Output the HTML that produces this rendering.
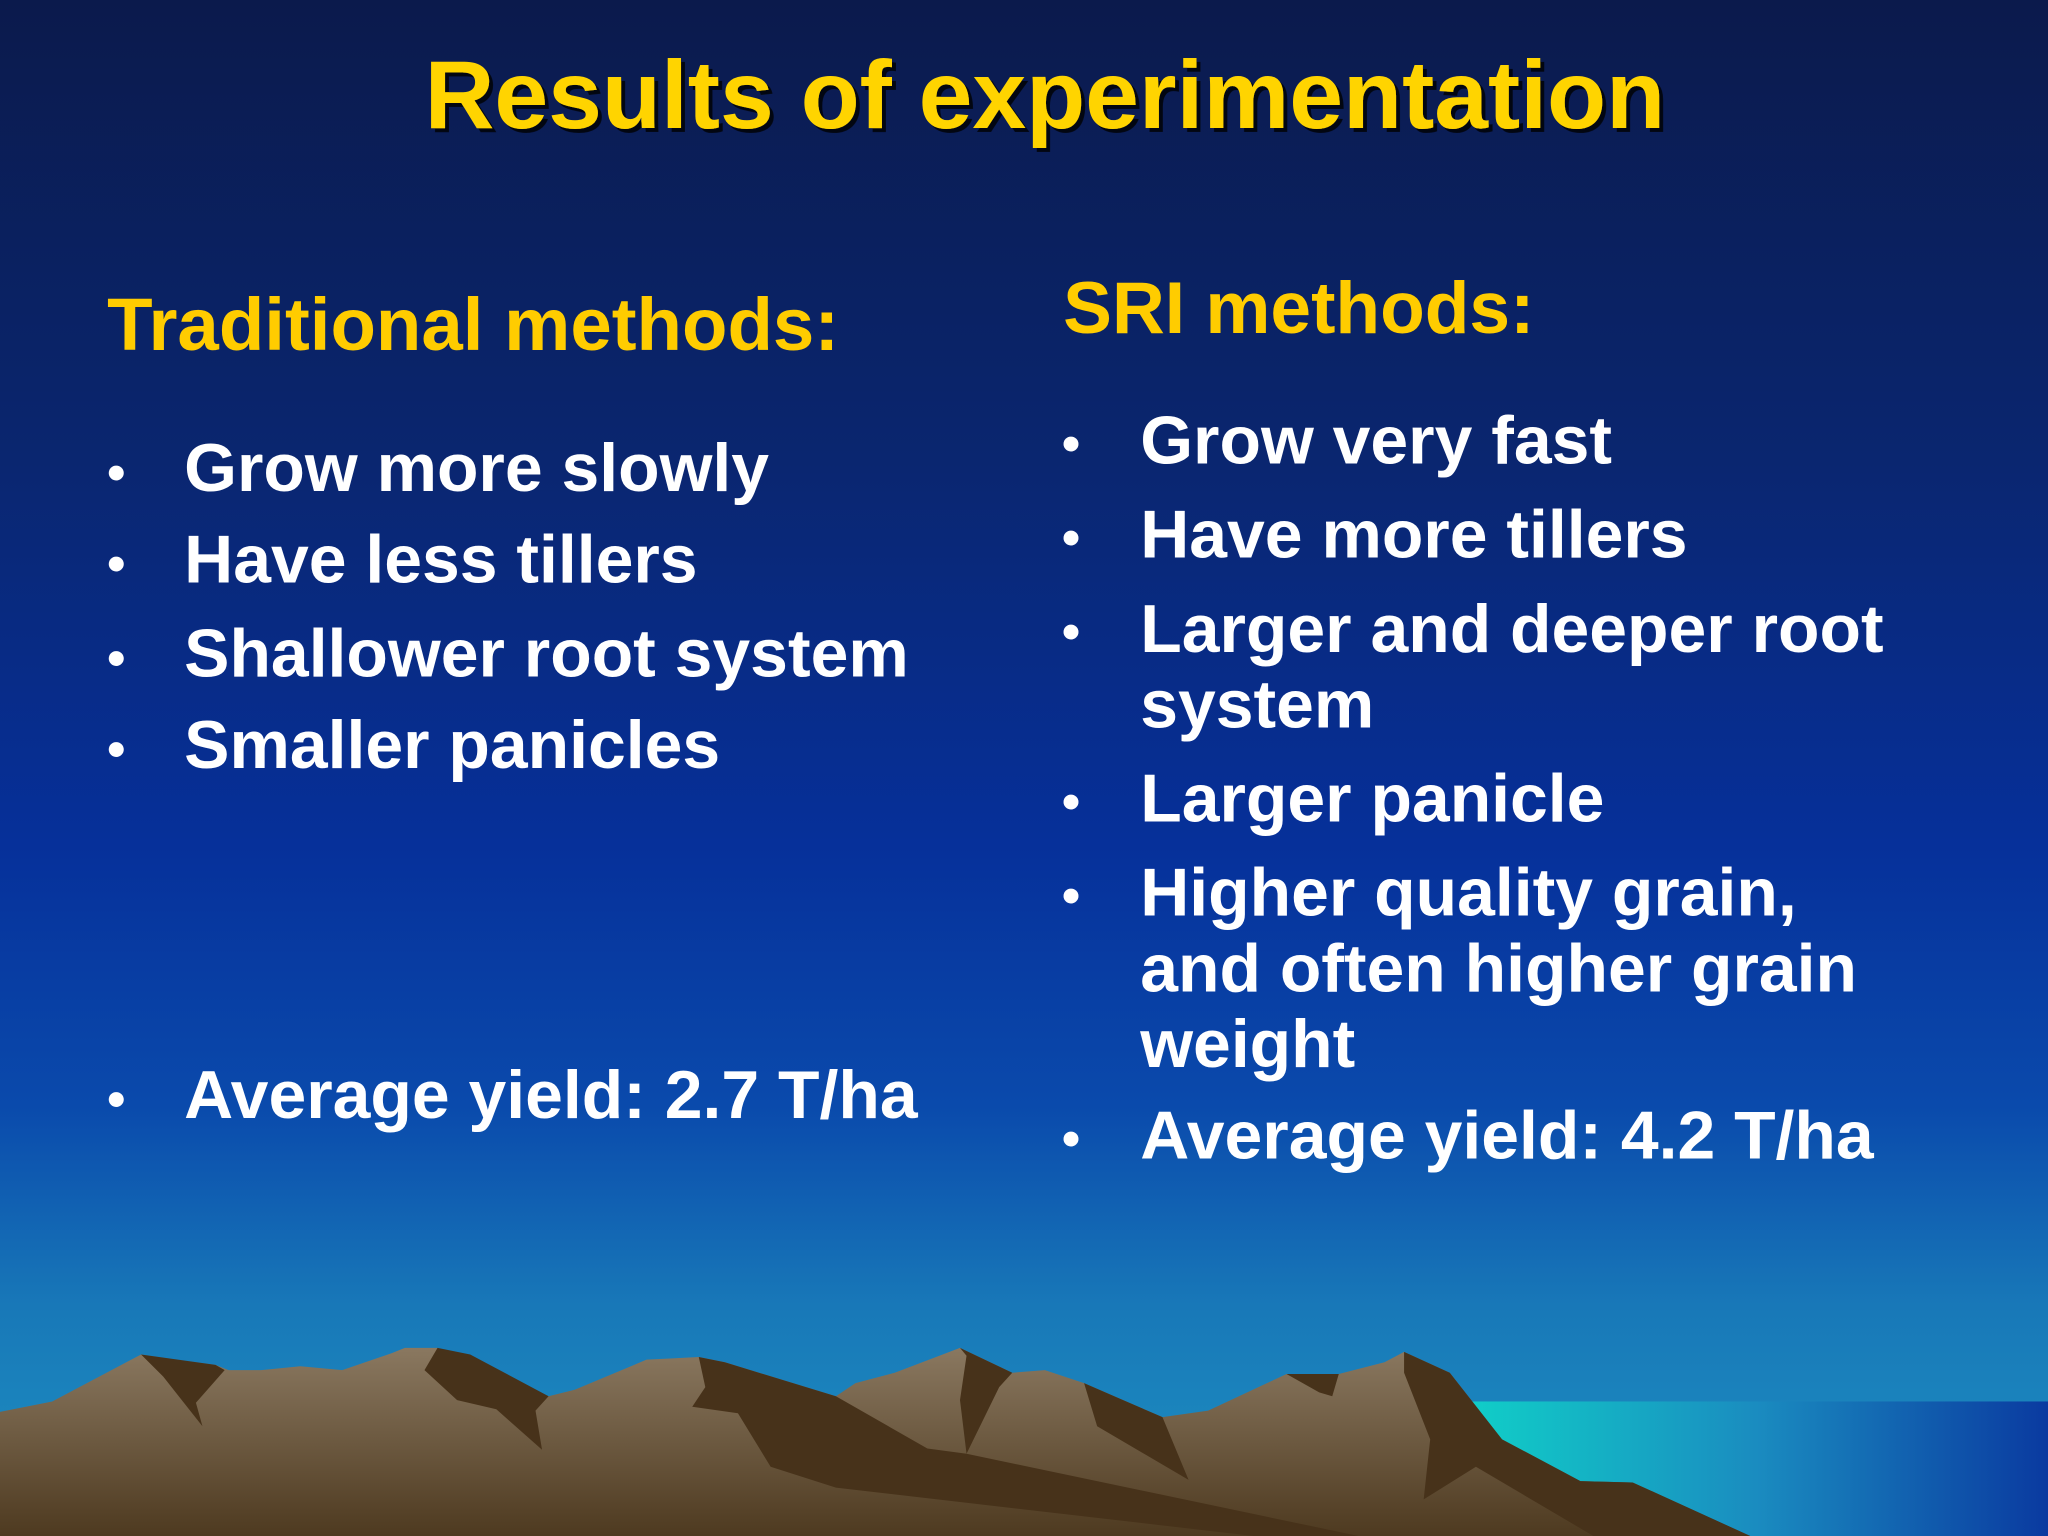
<!DOCTYPE html>
<html><head><meta charset="utf-8"><style>
html,body{margin:0;padding:0;background:#0a1a4a;}
svg{display:block}
text{font-family:"Liberation Sans",Arial,sans-serif;font-weight:bold;}
</style></head><body>
<svg width="2048" height="1536" viewBox="0 0 1568 1176" preserveAspectRatio="none" xmlns="http://www.w3.org/2000/svg">
<defs>
<linearGradient id="sky" x1="0" y1="0" x2="0" y2="1">
<stop offset="0" stop-color="#0b1a4c"/>
<stop offset="0.3" stop-color="#0a2670"/>
<stop offset="0.55" stop-color="#06309a"/>
<stop offset="0.72" stop-color="#0a4aac"/>
<stop offset="0.85" stop-color="#1878b8"/>
<stop offset="1" stop-color="#1e92c2"/>
</linearGradient>
<linearGradient id="sea" x1="0" y1="0" x2="1" y2="0">
<stop offset="0" stop-color="#10d0c8"/>
<stop offset="0.5" stop-color="#1a8cc0"/>
<stop offset="1" stop-color="#0a3aa0"/>
</linearGradient>
<linearGradient id="rock" x1="0" y1="0" x2="0" y2="1">
<stop offset="0" stop-color="#8a7860"/>
<stop offset="1" stop-color="#4e3a20"/>
</linearGradient>
<filter id="sh"><feDropShadow dx="3" dy="3" stdDeviation="0" flood-color="#000" flood-opacity="0.8"/></filter>
</defs>
<rect x="0" y="0" width="1568" height="1176" fill="url(#sky)"/>
<rect x="1120" y="1073" width="448" height="103" fill="url(#sea)"/>
<g>
<path d="M0,1081 L40,1073 L108,1037 L135,1041 L165,1045 L175,1049 L200,1049 L230,1046 L262,1049 L300,1036 L310,1032 L335,1032 L420,1069 L440,1064 L495,1041 L515,1040 L535,1039 L555,1043 L640,1069 L655,1059 L685,1051 L735,1032 L775,1051 L800,1049 L830,1059 L890,1085 L925,1080 L985,1052 L1025,1052 L1060,1043 L1075,1035 L1110,1051 L1150,1102 L1210,1134 L1250,1135 L1340,1176 L0,1176 Z" fill="url(#rock)"/>
<path d="M108,1037 L165,1045 L172,1049 L150,1074 L155,1092 L125,1054 Z
M335,1032 L360,1037 L420,1069 L410,1080 L415,1110 L380,1079 L350,1072 L325,1049 Z
M535,1039 L555,1043 L640,1069 L710,1109 L740,1113 L1040,1176 L960,1176 L640,1139 L590,1123 L565,1082 L530,1077 L540,1062 Z
M735,1032 L775,1051 L765,1062 L740,1113 L735,1072 L740,1038 Z
M830,1059 L890,1085 L910,1133 L840,1092 Z
M985,1052 L1025,1052 L1020,1069 L1010,1066 Z
M1075,1035 L1110,1051 L1150,1102 L1210,1134 L1250,1135 L1340,1176 L1220,1176 L1130,1123 L1090,1148 L1095,1102 L1075,1051 Z" fill="#47321a"/>
</g>
<text x="800" y="98" font-size="74" fill="#ffd400" text-anchor="middle" filter="url(#sh)">Results of experimentation</text>
<g fill="#fff" font-size="52">
<text x="82" y="268" fill="#ffcc00" font-size="57">Traditional methods:</text>
<text x="82" y="375" font-size="40">•</text><text x="141" y="376">Grow more slowly</text>
<text x="82" y="445" font-size="40">•</text><text x="141" y="446">Have less tillers</text>
<text x="82" y="517" font-size="40">•</text><text x="141" y="518">Shallower root system</text>
<text x="82" y="587" font-size="40">•</text><text x="141" y="588">Smaller panicles</text>
<text x="82" y="855" font-size="40">•</text><text x="141" y="856">Average yield: 2.7 T/ha</text>
</g>
<g fill="#fff" font-size="52">
<text x="814" y="255" fill="#ffcc00" font-size="56">SRI methods:</text>
<text x="813" y="353" font-size="40">•</text><text x="873" y="355">Grow very fast</text>
<text x="813" y="425" font-size="40">•</text><text x="873" y="427">Have more tillers</text>
<text x="813" y="497" font-size="40">•</text><text x="873" y="499">Larger and deeper root</text>
<text x="873" y="557">system</text>
<text x="813" y="627" font-size="40">•</text><text x="873" y="629">Larger panicle</text>
<text x="813" y="699" font-size="40">•</text><text x="873" y="701">Higher quality grain,</text>
<text x="873" y="759">and often higher grain</text>
<text x="873" y="817">weight</text>
<text x="813" y="885" font-size="40">•</text><text x="873" y="887">Average yield: 4.2 T/ha</text>
</g>
</svg>
</body></html>
